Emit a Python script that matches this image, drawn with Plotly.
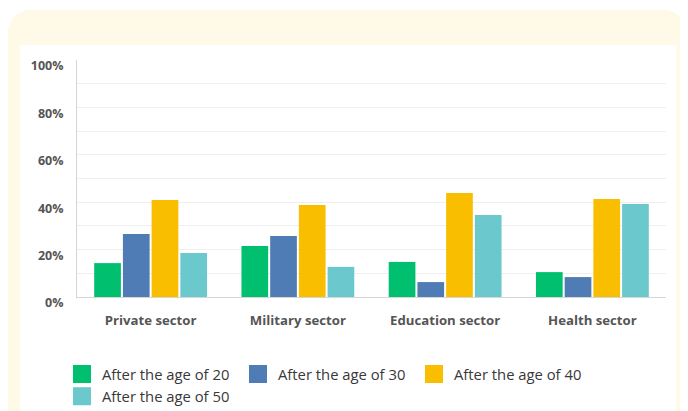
import plotly.graph_objects as go

categories = ["Private sector", "Military sector", "Education sector", "Health sector"]
series_names = ["After the age of 20", "After the age of 30", "After the age of 40", "After the age of 50"]
age20 = [14.3, 21.5, 14.8, 10.5]
age30 = [26.6, 25.7, 6.3, 8.4]
age40 = [40.9, 38.8, 43.9, 41.4]
age50 = [18.6, 12.7, 34.6, 39.2]
series_values = [age20, age30, age40, age50]
colors = ["#00BF6F", "#507CB6", "#F9BE00", "#6BC8CD"]
y_ticks = [0, 20, 40, 60, 80, 100]
y_tick_labels = ["0%", "20%", "40%", "60%", "80%", "100%"]
y_minor = [10, 20, 30, 40, 50, 60, 70, 80, 90]

# page body has an 8px margin, so the figure is drawn 8px in from the top-left
OFF = 8
W, H = 688 - OFF, 411 - OFF
ML, MT = 77 - OFF, 60 - OFF
PLOT_R, PLOT_B = 666 - OFF, 297 - OFF
MR, MB = W - PLOT_R, H - PLOT_B
PW, PH = W - ML - MR, H - MT - MB


def px(x):
    return (x - OFF - ML) / PW


def py(y):
    return (H - MB - (y - OFF)) / PH


def rounded_rect(x0, y0, x1, y1, r):
    k = 0.45
    pts = [
        f"M{px(x0 + r)},{py(y0)}",
        f"L{px(x1 - r)},{py(y0)}",
        f"C{px(x1 - r * k)},{py(y0)} {px(x1)},{py(y0 + r * k)} {px(x1)},{py(y0 + r)}",
        f"L{px(x1)},{py(y1)}",
        f"L{px(x0)},{py(y1)}",
        f"L{px(x0)},{py(y0 + r)}",
        f"C{px(x0)},{py(y0 + r * k)} {px(x0 + r * k)},{py(y0)} {px(x0 + r)},{py(y0)}",
        "Z",
    ]
    return " ".join(pts)


fig = go.Figure()
for name, vals, col in zip(series_names, series_values, colors):
    fig.add_trace(go.Bar(x=categories, y=vals, name=name, marker_color=col,
                         marker_line_width=0, showlegend=False))
for name, col in zip(series_names, colors):
    fig.add_trace(go.Scatter(x=[None], y=[None], mode="markers", name=name,
                             marker=dict(symbol="square", size=16, color=col,
                                         line=dict(width=2, color=col))))

fig.update_layout(
    width=W, height=H,
    margin=dict(l=ML, r=MR, t=MT, b=MB, pad=0, autoexpand=False),
    paper_bgcolor="white",
    plot_bgcolor="rgba(0,0,0,0)",
    barmode="group",
    bargap=0.22,
    bargroupgap=0.07,
    font=dict(family="Open Sans", color="#555555"),
    shapes=[
        dict(type="path", xref="paper", yref="paper", layer="below",
             path=rounded_rect(8, 10, 686, 440, 22),
             fillcolor="#FFFAE8", line=dict(width=0)),
        dict(type="rect", xref="paper", yref="paper", layer="below",
             x0=px(20), x1=px(676), y0=py(440), y1=py(45),
             fillcolor="white", line=dict(width=0)),
    ],
    legend=dict(
        orientation="h", xref="container", yref="container",
        x=54 / W, y=1 - 350 / H, xanchor="left", yanchor="top",
        font=dict(size=14.8, color="#383838", weight=500), entrywidth=131,
        itemsizing="trace", bgcolor="rgba(0,0,0,0)", tracegroupgap=0,
    ),
    showlegend=True,
)
fig.update_xaxes(
    showline=True, linecolor="#d6d6d6", linewidth=1, ticks="", showgrid=False,
    tickfont=dict(size=13.2, color="#555555", weight=700), ticklabelstandoff=11,
    automargin=False,
)
fig.update_yaxes(
    range=[0, 100], tickmode="array", tickvals=y_ticks, ticktext=y_tick_labels,
    showgrid=False, showline=True, linecolor="#d6d6d6", linewidth=1, ticks="",
    zeroline=False, automargin=False,
    tickfont=dict(size=12.5, color="#555555", weight=700), ticklabelshift=6,
    ticklabelstandoff=10,
    minor=dict(tickmode="array", tickvals=y_minor, showgrid=True, gridcolor="#efefef",
               gridwidth=1, ticks=""),
)

fig.write_html("out.html")
